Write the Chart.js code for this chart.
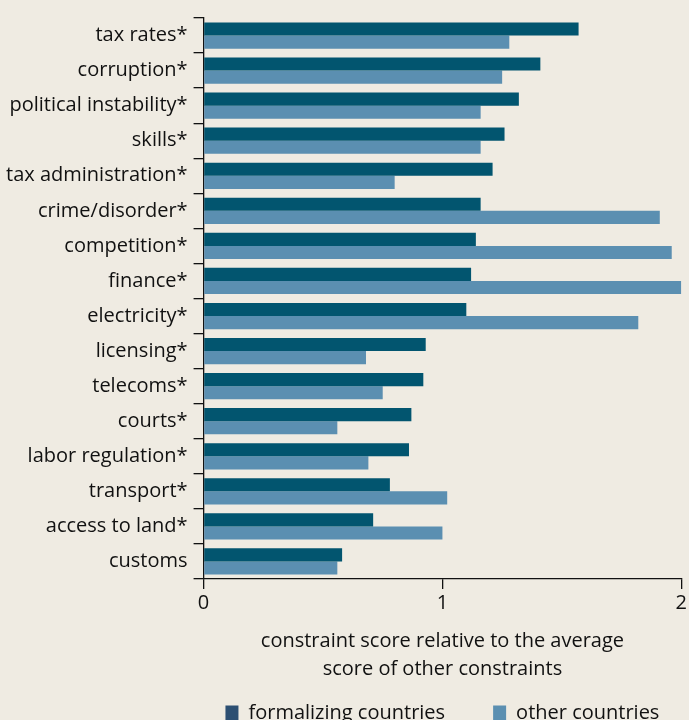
<!DOCTYPE html>
<html>
<head>
<meta charset="utf-8">
<script src="https://cdn.jsdelivr.net/npm/chart.js@4.4.1/dist/chart.umd.min.js"></script>
<style>
  html, body { margin: 0; padding: 0; background: #efebe2; overflow: hidden; }
  #wrap { width: 689px; height: 761px; position: relative; }
</style>
</head>
<body>
<div id="wrap"><canvas id="chart-canvas"></canvas></div>
<script>
const categories = [
  "tax rates*", "corruption*", "political instability*", "skills*",
  "tax administration*", "crime/disorder*", "competition*", "finance*",
  "electricity*", "licensing*", "telecoms*", "courts*",
  "labor regulation*", "transport*", "access to land*", "customs"
];
const formalizing = [1.57, 1.41, 1.32, 1.26, 1.21, 1.16, 1.14, 1.12, 1.10, 0.93, 0.92, 0.87, 0.86, 0.78, 0.71, 0.58];
const others = [1.28, 1.25, 1.16, 1.16, 0.80, 1.91, 1.96, 2.00, 1.82, 0.68, 0.75, 0.56, 0.69, 1.02, 1.00, 0.56];
const xTicks = [0, 1, 2];
const axisTitle = ["constraint score relative to the average", "score of other constraints"];

const font = "'Open Sans', sans-serif";
const ink = "#111";

// legend: centre it under the plot area and pull it up closer to the axis title
const legendShift = {
  id: "legendShift",
  afterLayout(chart) {
    const lg = chart.legend;
    const dx = (chart.chartArea.left + chart.chartArea.right) / 2 - (lg.left + lg.right) / 2;
    lg.left += dx;
    lg.right += dx;
    lg.top = chart.scales.x.bottom - 28;
  },
};

new Chart(document.getElementById("chart-canvas"), {
  type: "bar",
  data: {
    labels: categories,
    datasets: [
      { label: "formalizing countries", data: formalizing, backgroundColor: "#02556f" },
      { label: "other countries", data: others, backgroundColor: "#5b8fb1" },
    ],
  },
  options: {
    indexAxis: "y",
    responsive: true,
    maintainAspectRatio: false,
    animation: false,
    categoryPercentage: 0.75,
    barPercentage: 1.0,
    layout: { padding: { top: 9, right: 0, left: 0, bottom: 0 } },
    scales: {
      x: {
        min: 0,
        max: 2,
        afterBuildTicks: (axis) => { axis.ticks = xTicks.map((v) => ({ value: v })); },
        grid: { drawOnChartArea: false, tickLength: 10, color: ink, lineWidth: 1.3 },
        border: { color: ink, width: 1.3 },
        ticks: { color: ink, font: { family: font, size: 20 }, padding: 2 },
        title: {
          display: true,
          text: axisTitle,
          color: ink,
          font: { family: font, size: 20, lineHeight: 1.4 },
          padding: { top: 10, bottom: 0 },
        },
      },
      y: {
        grid: { drawOnChartArea: false, tickLength: 10, color: ink, lineWidth: 1.3, offset: true },
        border: { color: ink, width: 1.3 },
        ticks: { color: ink, font: { family: font, size: 20 }, padding: 6 },
      },
    },
    plugins: {
      tooltip: { enabled: false },
      legend: {
        position: "bottom",
        labels: {
          color: ink,
          font: { family: font, size: 20 },
          boxWidth: 13,
          boxHeight: 15,
          padding: 48,
          generateLabels(chart) {
            const items = Chart.defaults.plugins.legend.labels.generateLabels(chart);
            items[0].fillStyle = "#2c4f72";
            items.forEach((it) => { it.lineWidth = 0; });
            return items;
          },
        },
      },
    },
  },
  plugins: [legendShift],
});
</script>
</body>
</html>
